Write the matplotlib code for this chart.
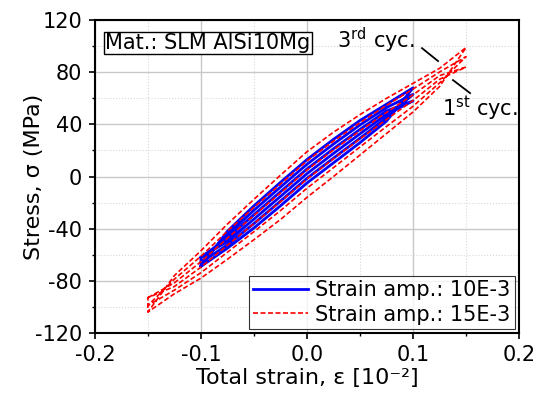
import matplotlib.pyplot as plt
from matplotlib.ticker import MultipleLocator

plt.rcParams['font.family'] = ['DejaVu Sans']
plt.rcParams['mathtext.fontset'] = 'dejavusans'
plt.rcParams['axes.unicode_minus'] = False

# strain points (10^-2) for each amplitude
strain_10 = [-0.1, -0.075, -0.05, -0.025, 0.0, 0.025, 0.05, 0.075, 0.1]
strain_15 = [-0.15, -0.125, -0.1, -0.075, -0.05, -0.025, 0.0,
             0.025, 0.05, 0.075, 0.1, 0.125, 0.15]

# stress (MPa), strain amp 10E-3, cycles 1..3
# upper branch listed low -> high strain, lower branch high -> low strain
upper_10 = [
    [-62, -47.2, -29.3, -11.7, 5.8, 21.3, 36.2, 50.3, 58],
    [-66, -44.6, -25.9, -8.1, 9.4, 24.9, 39.6, 52.9, 63],
    [-69, -42, -22.5, -4.5, 13, 28.5, 43, 55.5, 68],
]
lower_10 = [
    [58, 47.7, 32.8, 17.7, 2.2, -15.3, -32.7, -49.8, -62],
    [63, 45.1, 29.4, 14.1, -1.4, -18.9, -36.1, -52.4, -66],
    [68, 42.5, 26, 10.5, -5, -22.5, -39.5, -55, -69],
]

# stress (MPa), strain amp 15E-3, cycles 1..3
upper_15 = [
    [-93, -81.6, -65.4, -47.3, -29.9, -12.6, 5, 20.4, 35.1, 49.2, 62.7, 77.4, 84],
    [-99, -78.8, -61.2, -41.9, -23.7, -5.8, 12, 27.2, 41.3, 54.6, 67.1, 80.2, 92],
    [-104, -76, -57, -36.5, -17.5, 1, 19, 34, 47.5, 60, 71.5, 83, 99],
]
lower_15 = [
    [84, 74.6, 58.3, 43.8, 28.9, 13.6, -2, -19.4, -36.1, -52.7, -69.6, -84.4, -93],
    [92, 71.8, 53.9, 38.4, 22.7, 6.8, -9, -26.2, -42.3, -58.1, -73.8, -87.2, -99],
    [99, 69, 49.5, 33, 16.5, 0, -16, -33, -48.5, -63.5, -78, -90, -104],
]


def loop_xy(strain, upper, lower):
    xs, ys = [], []
    for up, lo in zip(upper, lower):
        xs += list(strain) + list(strain[::-1])
        ys += list(up) + list(lo)
    return xs, ys


fig = plt.figure(figsize=(5.39, 4.03), dpi=100)
ax = fig.add_axes([0.176, 0.174, 0.787, 0.776])

x10, y10 = loop_xy(strain_10, upper_10, lower_10)
x15, y15 = loop_xy(strain_15, upper_15, lower_15)

ax.plot(x10, y10, color='#0000ff', lw=2.0, label='Strain amp.: 10E-3', zorder=3)
ax.plot(x15, y15, color='#ff0000', lw=1.2, ls=(0, (3, 1.5)),
        label='Strain amp.: 15E-3', zorder=4)

ax.set_xlim(-0.2, 0.2)
ax.set_ylim(-120, 120)
ax.xaxis.set_minor_locator(MultipleLocator(0.05))
ax.yaxis.set_major_locator(MultipleLocator(40))
ax.yaxis.set_minor_locator(MultipleLocator(20))
ax.set_xticks([-0.2, -0.1, 0.0, 0.1, 0.2])
ax.set_xticklabels(['-0.2', '-0.1', '0.0', '0.1', '0.2'])

ax.grid(which='major', color='#c8c8c8', lw=1.0, ls='-')
ax.grid(which='minor', color='#d8d8d8', lw=0.8, ls=':')
ax.set_axisbelow(True)

ax.tick_params(which='major', direction='out', length=4.5, width=1.2, labelsize=15,
               pad=4.5, top=False, right=False)
ax.tick_params(which='minor', direction='out', length=2.5, width=1.0,
               top=False, right=False)
for s in ax.spines.values():
    s.set_linewidth(1.5)

ax.set_xlabel('Total strain, ε [10⁻²]', fontsize=16, labelpad=2)
ax.set_ylabel('Stress, σ (MPa)', fontsize=16)
ax.yaxis.set_label_coords(-0.12, 0.5)

ax.text(0.025, 0.96, 'Mat.: SLM AlSi10Mg', transform=ax.transAxes, fontsize=15,
        ha='left', va='top',
        bbox=dict(boxstyle='square,pad=0.05', fc='white', ec='black', lw=1.0))

# cycle labels with leader lines
ax.plot([0.1085, 0.1236], [98.5, 88.6], color='black', lw=1.3, zorder=5)
ax.plot([0.1377, 0.1538], [74, 64], color='black', lw=1.3, zorder=5)
ax.text(0.102, 104.5, '3$^{\\rm rd}$ cyc.', fontsize=15, ha='right', va='center')
ax.text(0.199, 52, '1$^{\\rm st}$ cyc.', fontsize=15, ha='right', va='center')

leg = ax.legend(loc='lower right', fontsize=15, frameon=True, fancybox=False,
                edgecolor='black', borderpad=0.2, handlelength=2.65,
                handletextpad=0.35, labelspacing=0.2, borderaxespad=0.2)
leg.get_frame().set_linewidth(0.8)

fig.savefig('out.png', dpi=100)
